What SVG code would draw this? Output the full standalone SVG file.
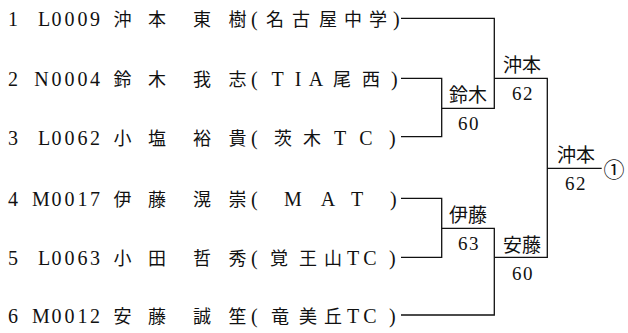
<svg xmlns="http://www.w3.org/2000/svg" width="628" height="333" viewBox="0 0 628 333">
<style>
.lat{font-family:"Liberation Serif","DejaVu Serif",serif;font-size:20px;fill:#111}
.cjk{font-family:"Noto Sans CJK JP","Noto Sans CJK SC",sans-serif;font-size:18px;fill:#111}
.lbl{font-family:"Noto Sans CJK JP","Noto Sans CJK SC",sans-serif;font-size:19px;fill:#111;text-anchor:middle}
.num{font-family:"Liberation Serif","DejaVu Serif",serif;font-size:19px;fill:#111;text-anchor:middle;letter-spacing:1.5px}
.c{text-anchor:middle}
.ln{fill:none;stroke:#111;stroke-width:1.3}
</style>
<rect width="628" height="333" fill="#fff"/>
<g id="connectors" class="ln">
<path d="M401 18.3H494.3V108.3H441.7"/>
<path d="M401 78.3H441.7V136.7H401"/>
<path d="M494.3 78.3H547.3V257.3H494.3"/>
<path d="M547.3 168.3H601.7"/>
<path d="M401 198.3H441.7V257.3H401"/>
<path d="M441.7 228.3H494.3V315H401"/>
</g>
<g id="p1">
<text class="lat" x="8" y="26.1">1</text>
<text class="lat c" x="44 56.5 69.5 82.5 95" y="26.1">L0009</text>
<text class="cjk c" x="122.5 157 202 237.5" y="26.1">沖本東樹</text>
<text class="lat" x="251" y="26.1">(</text>
<text class="cjk c" x="275 301 328 353 378" y="26.1">名古屋中学</text>
<text class="lat" x="393" y="26.1">)</text>
</g>
<g id="p2">
<text class="lat" x="8" y="86.1">2</text>
<text class="lat c" x="41.5 56.5 69.5 82.5 95" y="86.1">N0004</text>
<text class="cjk c" x="122.5 157 202 237.5" y="86.1">鈴木我志</text>
<text class="lat" x="251" y="86.1">(</text>
<text y="86.1"><tspan class="lat c" x="277.5 298 316">TIA</tspan><tspan class="cjk c" x="342 371">尾西</tspan></text>
<text class="lat" x="391" y="86.1">)</text>
</g>
<g id="p3">
<text class="lat" x="8" y="144.5">3</text>
<text class="lat c" x="44 56.5 69.5 82.5 95" y="144.5">L0062</text>
<text class="cjk c" x="122.5 157 202 237.5" y="144.5">小塩裕貴</text>
<text class="lat" x="251" y="144.5">(</text>
<text y="144.5"><tspan class="cjk c" x="283 312">茨木</tspan><tspan class="lat c" x="340 366">TC</tspan></text>
<text class="lat" x="389" y="144.5">)</text>
</g>
<g id="p4">
<text class="lat" x="8" y="206.1">4</text>
<text class="lat c" x="41 56.5 69.5 82.5 95" y="206.1">M0017</text>
<text class="cjk c" x="122.5 157 202 237.5" y="206.1">伊藤滉崇</text>
<text class="lat" x="251" y="206.1">(</text>
<text class="lat c" x="293 328 357" y="206.1">MAT</text>
<text class="lat" x="390" y="206.1">)</text>
</g>
<g id="p5">
<text class="lat" x="8" y="265.1">5</text>
<text class="lat c" x="44 56.5 69.5 82.5 95" y="265.1">L0063</text>
<text class="cjk c" x="122.5 157 202 237.5" y="265.1">小田哲秀</text>
<text class="lat" x="251" y="265.1">(</text>
<text y="265.1"><tspan class="cjk c" x="279 308 333">覚王山</tspan><tspan class="lat c" x="353 370">TC</tspan></text>
<text class="lat" x="389" y="265.1">)</text>
</g>
<g id="p6">
<text class="lat" x="8" y="322.8">6</text>
<text class="lat c" x="41 56.5 69.5 82.5 95" y="322.8">M0012</text>
<text class="cjk c" x="122.5 157 202 237.5" y="322.8">安藤誠笙</text>
<text class="lat" x="251" y="322.8">(</text>
<text y="322.8"><tspan class="cjk c" x="280 308 333">竜美丘</tspan><tspan class="lat c" x="353 370">TC</tspan></text>
<text class="lat" x="389" y="322.8">)</text>
</g>
<g id="m-suzuki">
<text class="lbl" x="468" y="102">鈴木</text>
<text class="num" x="469" y="130">60</text>
</g>
<g id="m-itou">
<text class="lbl" x="468" y="221.5">伊藤</text>
<text class="num" x="469" y="250">63</text>
</g>
<g id="m-okimoto">
<text class="lbl" x="522" y="71.5">沖本</text>
<text class="num" x="523" y="100">62</text>
</g>
<g id="m-andou">
<text class="lbl" x="522" y="251.5">安藤</text>
<text class="num" x="523" y="280">60</text>
</g>
<g id="final">
<text class="lbl" x="576" y="161.5">沖本</text>
<text class="num" x="576" y="190">62</text>
</g>
<g id="rank">
<text class="cjk c" x="614" y="177" style="font-size:21px">①</text>
</g>
</svg>
